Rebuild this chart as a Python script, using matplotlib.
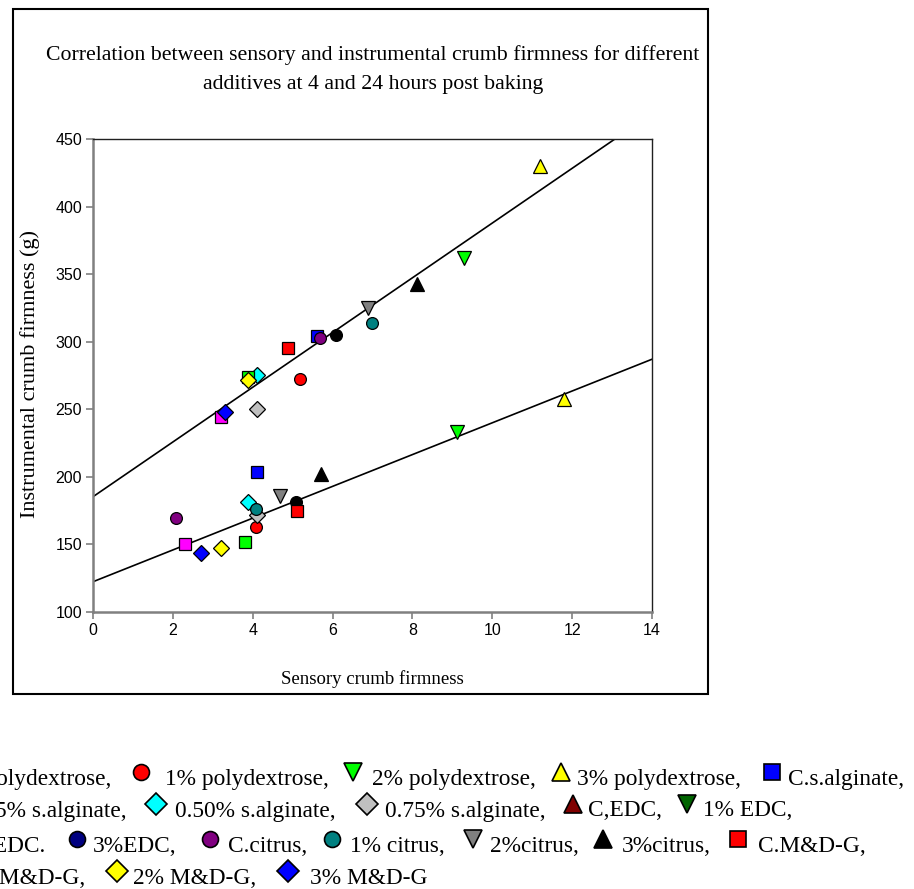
import numpy as np
import matplotlib
matplotlib.use("Agg")
import matplotlib.pyplot as plt
from matplotlib.lines import Line2D
from matplotlib.patches import Rectangle

# ---- data -------------------------------------------------------------
series_names = [
    "C.polydextrose", "1% polydextrose", "2% polydextrose", "3% polydextrose",
    "C.s.alginate", "0.25% s.alginate", "0.50% s.alginate", "0.75% s.alginate",
    "C,EDC", "1% EDC", "2% EDC", "3%EDC",
    "C.citrus", "1% citrus", "2%citrus", "3%citrus",
    "C.M&D-G", "1% M&D-G", "2% M&D-G", "3% M&D-G",
]
nan = np.nan
# sensory / instrumental firmness, 4 h post baking
sensory_4h = [5.08, 4.08, 9.11, 11.80, 4.10, 2.30, 3.89, 4.10,
              nan, nan, nan, nan,
              2.08, 4.08, 4.68, 5.70, 5.10, 3.81, 3.20, 2.70]
instrumental_4h = [181.6, 163.1, 233.5, 257.4, 203.8, 150.1, 181.6, 171.8,
                   nan, nan, nan, nan,
                   169.3, 176.2, 185.9, 201.9, 174.8, 151.6, 147.6, 143.4]
# sensory / instrumental firmness, 24 h post baking
sensory_24h = [6.08, 5.18, 9.30, 11.19, 5.60, 3.20, 4.11, 4.10,
               nan, nan, nan, nan,
               5.69, 6.98, 6.89, 8.11, 4.89, 3.89, 3.89, 3.31]
instrumental_24h = [305.0, 272.5, 361.8, 430.1, 304.3, 244.1, 275.4, 250.0,
                    nan, nan, nan, nan,
                    302.6, 314.0, 324.8, 342.8, 295.2, 274.2, 271.7, 248.3]

# linear trend lines (intercept, slope) for 24 h and 4 h
trend_intercepts = [185.3, 122.4]
trend_slopes = [20.25, 11.76]

x_ticks = [0, 2, 4, 6, 8, 10, 12, 14]
y_ticks = [100, 150, 200, 250, 300, 350, 400, 450]

# ---- styles -----------------------------------------------------------
markers = ["o", "o", "v", "^", "s", "s", "D", "D",
           "^", "v", "o", "o",
           "o", "o", "v", "^", "s", "s", "D", "D"]
colors = ["#000000", "#FF0000", "#00FF00", "#FFFF00", "#0000FF", "#FF00FF",
          "#00FFFF", "#C0C0C0",
          "#800000", "#006400", "#000080", "#000080",
          "#800080", "#008080", "#808080", "#000000",
          "#FF0000", "#00FF00", "#FFFF00", "#0000FF"]
msizes = {"o": 8.5, "s": 9.0, "D": 8.0, "v": 9.5, "^": 9.5}

W, H = 914, 889
fig = plt.figure(figsize=(W / 100, H / 100), dpi=100)
serif = "Liberation Serif"
sans = "Liberation Sans"


def fpos(x, y):
    return x / W, 1 - y / H


# outer frame
fig.add_artist(Rectangle(fpos(13, 694), (708 - 13) / W, (694 - 9) / H,
                         transform=fig.transFigure, fill=False,
                         edgecolor="black", linewidth=1.5))

ax = fig.add_axes([93 / W, 1 - 612 / H, (652 - 93) / W, (612 - 139) / H])
ax.set_xlim(0, 14)
ax.set_ylim(100, 450)
ax.set_xticks(x_ticks)
ax.set_yticks(y_ticks)
ax.tick_params(direction="out", length=5, width=1.2, color="#808080",
               labelsize=11.5, pad=3)
for lab in ax.get_xticklabels() + ax.get_yticklabels():
    lab.set_fontfamily(sans)
for side in ("left", "bottom"):
    ax.spines[side].set_color("#808080")
    ax.spines[side].set_linewidth(1.8)
for side in ("top", "right"):
    ax.spines[side].set_color("#202020")
    ax.spines[side].set_linewidth(1.0)

# trend lines
xs = np.array([0.0, 14.0])
for b, m in zip(trend_intercepts, trend_slopes):
    ax.plot(xs, b + m * xs, color="black", linewidth=1.2, zorder=2)

# points
for i, name in enumerate(series_names):
    mk = markers[i]
    ax.plot([sensory_4h[i], sensory_24h[i]],
            [instrumental_4h[i], instrumental_24h[i]],
            linestyle="none", marker=mk, markersize=msizes[mk],
            markerfacecolor=colors[i], markeredgecolor="black",
            markeredgewidth=0.9, zorder=3, clip_on=False)

# titles
fig.text(373 / W, 1 - 55 / H,
         "Correlation between sensory and instrumental crumb firmness for different",
         ha="center", va="center", fontsize=15.7, family=serif)
fig.text(373 / W, 1 - 85 / H, "additives at 4 and 24 hours post baking",
         ha="center", va="center", fontsize=15.7, family=serif)
fig.text(372 / W, 1 - 679 / H, "Sensory crumb firmness",
         ha="center", va="center", fontsize=13.5, family=serif)
fig.text(30 / W, 1 - 374 / H, "Instrumental crumb firmness (g)",
         ha="center", va="center", rotation=90, fontsize=16, family=serif)

# legend paragraph below the frame: (series index, marker x, text x)
legend_rows = [
    (779, [(0, None, 111), (1, 141, 165), (2, 353, 372), (3, 561, 577), (4, 772, 788)]),
    (811, [(5, None, 127), (6, 156, 175), (7, 367, 385), (8, 573, 588), (9, 687, 703)]),
    (846, [(10, None, 45), (11, 77, 93), (12, 210, 228), (13, 332, 350),
           (14, 473, 490), (15, 603, 622), (16, 738, 758)]),
    (878, [(17, None, 85), (18, 117, 133), (19, 288, 310)]),
]
legend_fs = 16.8
last_index = len(series_names) - 1
for y, items in legend_rows:
    for idx, mx, tx in items:
        label = series_names[idx] + ("" if idx == last_index else ",")
        if idx == 10:
            label = series_names[idx] + "."
        if mx is None:
            fig.text(tx / W, 1 - y / H, label, ha="right", va="center",
                     fontsize=legend_fs, family=serif)
        else:
            mk = markers[idx]
            fig.add_artist(Line2D([mx / W], [1 - (y - 7) / H],
                                  transform=fig.transFigure, marker=mk,
                                  markersize=msizes[mk] * 1.35,
                                  markerfacecolor=colors[idx],
                                  markeredgecolor="black",
                                  markeredgewidth=1.2, linestyle="none"))
            fig.text(tx / W, 1 - y / H, label, ha="left", va="center",
                     fontsize=legend_fs, family=serif)

fig.savefig("out.png", dpi=100)
